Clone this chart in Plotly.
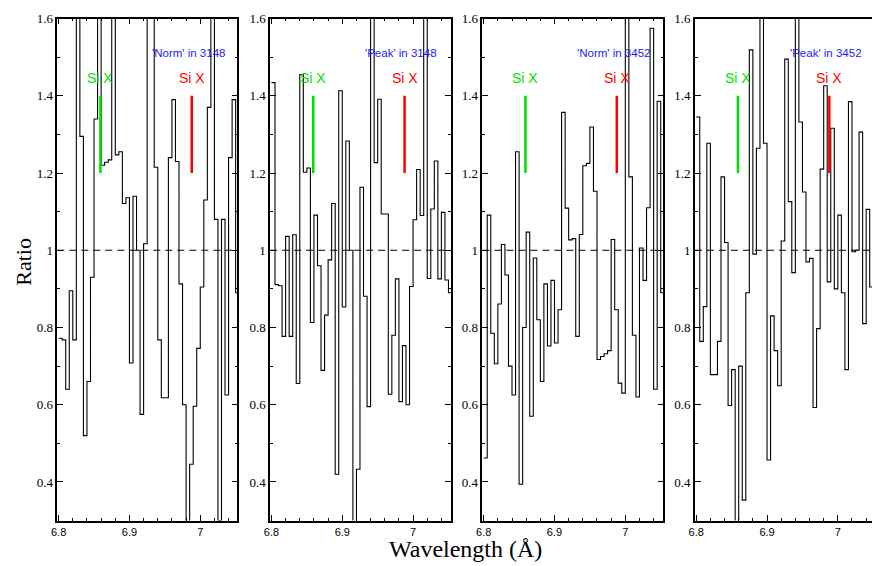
import plotly.graph_objects as go

# step histograms: ratio per 0.005 A bin, first bin starts at 6.8 A
bin_start = 6.8
bin_width = 0.005

# values above 1.6 / below 0.3 run off the plot (clipped by the axis range)
norm_3148 = [0.772, 0.768, 0.64, 0.895, 0.768, 1.8, 1.295, 0.52, 0.66, 0.93,
             1.34, 1.8, 1.22, 1.228, 1.234, 1.8, 1.247, 1.255, 1.121, 1.136,
             0.708, 1.14, 1.0, 0.575, 1.017, 1.8, 1.8, 1.215, 0.768, 0.618,
             0.618, 1.24, 1.39, 1.23, 0.913, 0.60, 0.2, 0.446, 0.596, 0.746,
             0.905, 1.13, 1.37, 1.8, 1.08, 0.3, 1.08, 0.625, 1.24, 1.39, 0.89]
peak_3148 = [1.434, 0.911, 0.908, 0.777, 1.036, 0.777, 1.04, 0.655, 1.455, 1.202,
             1.213, 0.813, 1.091, 0.96, 0.689, 0.832, 0.975, 1.121, 0.42, 1.413,
             0.853, 1.283, 1.0, 0.2, 0.433, 1.163, 0.881, 0.595, 1.8, 1.227,
             1.391, 1.094, 1.094, 0.627, 0.78, 0.926, 0.608, 0.753, 0.60, 0.906,
             1.079, 1.209, 1.09, 1.8, 0.927, 1.107, 1.231, 0.926, 1.098, 0.923, 0.89]
norm_3452 = [0.462, 1.091, 0.785, 0.706, 0.861, 1.015, 0.936, 0.70, 0.625, 1.255,
             0.394, 0.80, 1.047, 0.57, 0.98, 0.82, 0.66, 0.913, 0.752, 0.922,
             0.76, 0.846, 1.357, 1.109, 1.027, 1.03, 0.777, 1.041, 1.219, 1.225,
             1.319, 1.153, 0.717, 0.725, 0.732, 0.74, 1.028, 0.846, 0.656, 0.63,
             1.8, 1.19, 0.78, 0.62, 1.006, 0.922, 1.11, 1.575, 0.64, 1.386, 0.89]
peak_3452 = [1.345, 0.764, 0.854, 1.277, 0.678, 0.678, 0.764, 1.19, 1.02, 0.598,
             0.691, 0.2, 0.70, 0.353, 0.89, 1.519, 0.99, 1.264, 1.8, 1.277,
             0.457, 0.83, 0.74, 0.649, 1.024, 1.495, 1.126, 0.942, 1.8, 1.332,
             1.151, 0.97, 0.979, 0.593, 0.797, 1.21, 1.426, 0.918, 1.316, 0.90,
             1.091, 0.89, 0.691, 1.385, 0.996, 1.0, 1.306, 0.81, 1.106, 0.905, 0.9]

panels = [norm_3148, peak_3148, norm_3452, peak_3452]
panel_labels = ["'Norm' in 3148", "'Peak' in 3148", "'Norm' in 3452", "'Peak' in 3452"]

line_name = 'Si X'
si_green = 6.859
si_red = 6.988
mark_y = [1.2, 1.4]

y_ticks = [0.4, 0.6, 0.8, 1.0, 1.2, 1.4, 1.6]
y_ticktext = ['0.4', '0.6', '0.8', '1', '1.2', '1.4', '1.6']
x_ticks = [6.8, 6.9, 7.0]
x_ticktext = ['6.8', '6.9', '7']

W, H = 872, 566
x_px = [(51.7, 233), (266, 448), (479.7, 662), (693.7, 872)]
y_px = (11.7, 520)
px_per_A = 713
x0 = bin_start - 1.3 / px_per_A

fig = go.Figure()
shapes = []
annotations = []

for i, vals in enumerate(panels):
    n = i + 1
    sx = '' if n == 1 else str(n)
    edges = [bin_start + bin_width * k for k in range(len(vals) + 1)]
    fig.add_trace(go.Scatter(
        x=edges, y=vals + [vals[-1]], mode='lines', line_shape='hv',
        line=dict(color='black', width=1.1), xaxis='x' + sx, yaxis='y' + sx,
        showlegend=False, hoverinfo='skip'))

    left, right = x_px[i]
    xr = [x0, x0 + (right - left) / px_per_A]
    fig.update_layout(**{
        'xaxis' + sx: dict(
            domain=[left / W, right / W], range=xr, anchor='y' + sx,
            tickmode='array', tickvals=x_ticks, ticktext=x_ticktext,
            ticks='inside', ticklen=6, tickwidth=1, tickcolor='black',
            minor=dict(dtick=0.02, tick0=6.8, ticks='inside', ticklen=3, tickcolor='black'),
            showline=True, linecolor='black', linewidth=1.5,
            mirror='allticks' if n < 4 else True, showgrid=False, zeroline=False,
            tickfont=dict(family='Liberation Sans, Arial', size=11, color='black')),
        'yaxis' + sx: dict(
            domain=[1 - y_px[1] / H, 1 - y_px[0] / H], range=[0.3, 1.6], anchor='x' + sx,
            tickmode='array', tickvals=y_ticks, ticktext=y_ticktext,
            ticks='inside', ticklen=6, tickwidth=1, tickcolor='black',
            minor=dict(dtick=0.1, tick0=0.3, ticks='inside', ticklen=3, tickcolor='black'),
            showline=True, linecolor='black', linewidth=1.5,
            mirror='allticks' if n < 4 else False, showgrid=False, zeroline=False,
            tickfont=dict(family='Liberation Serif, Times New Roman', size=13, color='black')),
    })

    shapes.append(dict(type='line', xref='x' + sx + ' domain', yref='y' + sx,
                       x0=0, x1=1, y0=1, y1=1,
                       line=dict(color='black', width=1, dash='7px,5px')))
    for xv, col in [(si_green, '#00e000'), (si_red, '#ff0000')]:
        shapes.append(dict(type='line', xref='x' + sx, yref='y' + sx,
                           x0=xv, x1=xv, y0=mark_y[0], y1=mark_y[1],
                           line=dict(color=col, width=2.5)))
        annotations.append(dict(x=xv, y=1.445, xref='x' + sx, yref='y' + sx,
                                text=line_name, showarrow=False,
                                xanchor='center', yanchor='middle',
                                font=dict(family='Liberation Sans, Arial', size=14, color=col)))
    annotations.append(dict(x=6.983, y=1.51, xref='x' + sx, yref='y' + sx,
                            text=panel_labels[i], showarrow=False,
                            xanchor='center', yanchor='middle',
                            font=dict(family='Liberation Sans, Arial', size=11.5, color='#1a1aff')))

annotations.append(dict(x=463 / W, y=1 - 549 / H, xref='paper', yref='paper',
                        text='Wavelength (Å)', showarrow=False,
                        xanchor='center', yanchor='middle',
                        font=dict(family='Liberation Serif, Times New Roman', size=24, color='black')))
annotations.append(dict(x=18 / W, y=1 - 258 / H, xref='paper', yref='paper',
                        text='Ratio', showarrow=False, textangle=-90,
                        xanchor='center', yanchor='middle',
                        font=dict(family='Liberation Serif, Times New Roman', size=22, color='black')))

fig.update_layout(width=W, height=H, margin=dict(l=0, r=0, t=0, b=0),
                  paper_bgcolor='white', plot_bgcolor='white',
                  shapes=shapes, annotations=annotations)

fig.write_html("out.html", config={'displayModeBar': False},
               post_script="document.body.style.margin='0';")
